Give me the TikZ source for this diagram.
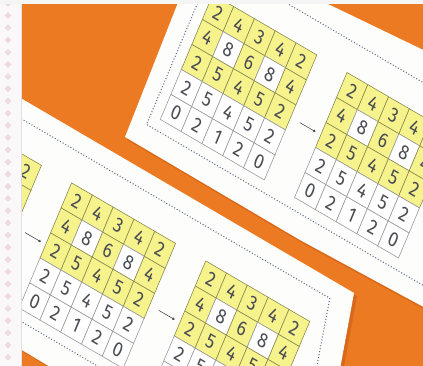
\documentclass[tikz,border=0pt]{standalone}
\usepackage{fontspec}
\setmainfont{Fira Sans}
\usetikzlibrary{arrows.meta}
\definecolor{bgorange}{RGB}{236,122,34}
\definecolor{shadoworange}{RGB}{200,92,20}
\definecolor{cardwhite}{RGB}{253,253,252}
\definecolor{cellyellow}{RGB}{246,242,140}
\definecolor{yline}{RGB}{140,140,78}
\definecolor{wline}{RGB}{155,155,158}
\definecolor{digit}{RGB}{75,77,84}
\definecolor{dotblue}{RGB}{100,112,135}
\definecolor{stripbg}{RGB}{251,248,249}
\definecolor{stripdia}{RGB}{238,218,226}
\tikzset{
  card/.style={fill=cardwhite},
  shadowcard/.style={fill=shadoworange, opacity=0.55},
  ycell/.style={fill=cellyellow, draw=yline, line width=0.6pt},
  wcell/.style={fill=white, draw=wline, line width=0.6pt},
  digitnode/.style={transform shape, scale=0.075, inner sep=0pt, text=digit, font=\fontsize{10}{12}\selectfont},
  dotline/.style={draw=dotblue, line width=1.1pt, dash pattern=on 1pt off 2pt},
  arrowline/.style={draw=digit, line width=0.6pt, -{Circle[length=2.6pt]}},
}
\newcommand{\numgrid}[3]{%
  \foreach \rr/\vals in {0/{2,4,3,4,2},1/{4,8,6,8,4},2/{2,5,4,5,2},3/{2,5,4,5,2},4/{0,2,1,2,0}}{%
    \foreach \d [count=\i from 0] in \vals {%
      \pgfmathsetmacro\cx{#2+\i}%
      \pgfmathsetmacro\cy{#3+\rr}%
      \def\isy{0}%
      \ifnum\rr<3 \ifnum\d=8 \else \def\isy{1}\fi\fi
      \ifnum\isy=1
        \path[ycell] (\cx-0.5,\cy-0.5) rectangle (\cx+0.5,\cy+0.5);
      \else
        \path[wcell] (\cx-0.5,\cy-0.5) rectangle (\cx+0.5,\cy+0.5);
      \fi
      \node[digitnode] (#1-\rr-\i) at (\cx,\cy) {\d};
    }}}
\newcommand{\gridarrow}[3]{%
  \coordinate (#1-from) at (#2-1.5,#3+2);
  \coordinate (#1-to) at (#2-0.75,#3+2);
  \draw[arrowline] (#1-from) -- (#1-to);
}
\begin{document}
\begin{tikzpicture}[x=1pt,y=-1pt]
\useasboundingbox (0,0) rectangle (423,366);
\clip (0,0) rectangle (423,366);
\fill[bgorange] (0,0) rectangle (423,366);
% shadows
\fill[shadowcard, shift={(2,3)}] (125,137) -- (201.5,-57) -- (500,87) -- (500,348) -- (423,306.7) -- (300,240) -- cycle;
\fill[shadowcard, shift={(3,3)}] (-20,74.3) -- (354,293) -- (338,380) -- (72,380) -- (-20,325) -- cycle;
% cards
\fill[card] (125,137) -- (201.5,-57) -- (500,87) -- (500,348) -- (423,306.7) -- (300,240) -- cycle;
\fill[card] (-20,74.3) -- (354,293) -- (338,380) -- (72,380) -- (-20,325) -- cycle;
% card contents in the card plane
\begin{scope}[cm={20.8,-12.1,10.5,25,(218,13)}]
  \draw[dotline] (13,-1.6) -- (-0.95,-1.6) -- (-0.95,4.92) -- (13,4.92);
  \draw[dotline] (-12,7.08) -- (8.95,7.08) -- (9.55,9.5) -- (9.8,10.5);
  \draw[dotline] (-12,13.6) -- (3,13.6);
  \numgrid{U1}{0}{0}
  \numgrid{U2}{6.45}{0}
  \numgrid{L1}{-8.85}{8.7}
  \numgrid{L2}{-2.4}{8.7}
  \numgrid{L3}{4.05}{8.7}
  \gridarrow{aU}{6.45}{0}
  \gridarrow{aL2}{-2.4}{8.7}
  \gridarrow{aL3}{4.05}{8.7}
\end{scope}
% frame strips
\fill[stripbg] (0,0) rectangle (21,366);
\draw[black!12, line width=0.5pt] (21,0) -- (21,366);
\foreach \k in {0,...,30}
  \fill[stripdia] (8,\k*12.2) -- ++(3.4,3.4) -- ++(-3.4,3.4) -- ++(-3.4,-3.4) -- cycle;
\fill[white!96!black] (0,0) rectangle (423,4.5);
\end{tikzpicture}
\end{document}
